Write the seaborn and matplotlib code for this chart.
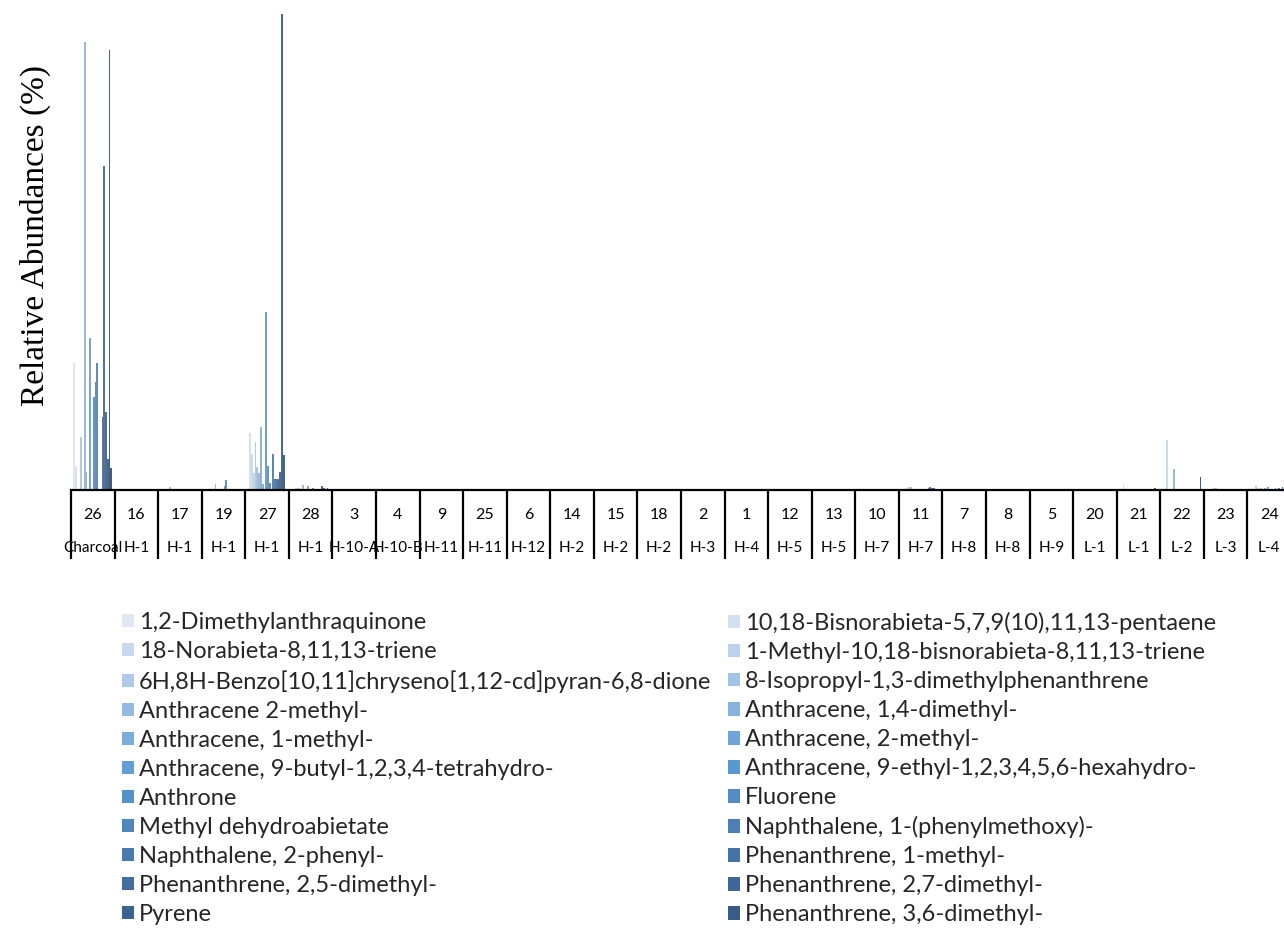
import matplotlib
matplotlib.use("Agg")
import matplotlib.pyplot as plt
import matplotlib.transforms as mtransforms
from matplotlib.patches import Patch
import seaborn as sns
import pandas as pd
import numpy as np

# sample numbers (x categories) and their site labels
samples = ["26", "16", "17", "19", "27", "28", "3", "4", "9", "25", "6", "14", "15", "18",
           "2", "1", "12", "13", "10", "11", "7", "8", "5", "20", "21", "22", "23", "24"]
sites = ["Charcoal", "H-1", "H-1", "H-1", "H-1", "H-1", "H-10-A", "H-10-B", "H-11", "H-11",
         "H-12", "H-2", "H-2", "H-2", "H-3", "H-4", "H-5", "H-5", "H-7", "H-7", "H-8", "H-8",
         "H-9", "L-1", "L-1", "L-2", "L-3", "L-4"]

compounds = [
    "1,2-Dimethylanthraquinone",
    "10,18-Bisnorabieta-5,7,9(10),11,13-pentaene",
    "18-Norabieta-8,11,13-triene",
    "1-Methyl-10,18-bisnorabieta-8,11,13-triene",
    "6H,8H-Benzo[10,11]chryseno[1,12-cd]pyran-6,8-dione",
    "8-Isopropyl-1,3-dimethylphenanthrene",
    "Anthracene 2-methyl-",
    "Anthracene, 1,4-dimethyl-",
    "Anthracene, 1-methyl-",
    "Anthracene, 2-methyl-",
    "Anthracene, 9-butyl-1,2,3,4-tetrahydro-",
    "Anthracene, 9-ethyl-1,2,3,4,5,6-hexahydro-",
    "Anthrone",
    "Fluorene",
    "Methyl dehydroabietate",
    "Naphthalene, 1-(phenylmethoxy)-",
    "Naphthalene, 2-phenyl-",
    "Phenanthrene, 1-methyl-",
    "Phenanthrene, 2,5-dimethyl-",
    "Phenanthrene, 2,7-dimethyl-",
    "Pyrene",
    "Phenanthrene, 3,6-dimethyl-",
]

# relative abundances (%) per sample, one value per compound (order as above)
s26 = [12.7, 2.3, 0, 0, 5.3, 0, 44.8, 1.8, 0, 15.2, 0, 9.3, 10.8, 12.7, 0, 0, 7.3, 32.4, 7.8, 3.1, 44.0, 2.2]
s16 = [0, 0, 0, 0, 0, 0, 0.03, 0, 0, 0, 0, 0, 0, 0, 0.03, 0, 0, 0, 0, 0, 0, 0]
s17 = [0, 0.05, 0, 0, 0, 0.25, 0, 0, 0, 0, 0, 0.03, 0, 0, 0, 0, 0.03, 0, 0, 0, 0, 0]
s19 = [0, 0, 0, 0, 0, 0, 0.6, 0, 0, 0, 0, 0.35, 1.0, 0, 0, 0, 0, 0, 0, 0, 0, 0]
s27 = [0, 5.7, 3.6, 1.7, 4.8, 2.3, 1.7, 6.3, 0.6, 0, 17.8, 2.4, 0.7, 0, 3.6, 1.1, 1.1, 1.1, 1.8, 47.6, 3.5, 0]
s28 = [0, 0, 0.2, 0.15, 0.15, 0, 0.45, 0, 0, 0.35, 0, 0, 0.18, 0, 0, 0, 0, 0.35, 0.15, 0, 0.2, 0]
s3 = [0, 0, 0, 0.05, 0.05, 0.05, 0.05, 0.05, 0.05, 0, 0, 0, 0, 0, 0, 0, 0, 0, 0, 0, 0, 0]
s4 = [0, 0, 0, 0, 0, 0, 0, 0, 0, 0, 0, 0, 0, 0, 0, 0, 0, 0, 0, 0, 0, 0]
s9 = [0, 0, 0, 0, 0, 0, 0, 0, 0, 0, 0, 0, 0, 0, 0, 0, 0, 0, 0, 0, 0, 0]
s25 = [0, 0, 0, 0, 0, 0, 0, 0, 0, 0, 0, 0, 0, 0, 0, 0, 0, 0, 0, 0, 0, 0]
s6 = [0, 0, 0, 0, 0, 0, 0, 0, 0, 0, 0, 0, 0, 0, 0, 0, 0, 0, 0, 0, 0, 0]
s14 = [0, 0, 0, 0, 0, 0, 0, 0, 0, 0, 0, 0, 0, 0, 0, 0, 0, 0, 0, 0, 0, 0]
s15 = [0, 0, 0, 0, 0, 0, 0, 0, 0, 0, 0, 0, 0, 0, 0, 0, 0, 0, 0, 0, 0, 0]
s18 = [0, 0, 0, 0, 0, 0, 0, 0, 0, 0, 0, 0, 0, 0, 0, 0, 0, 0, 0, 0, 0, 0]
s2 = [0, 0, 0, 0, 0, 0, 0, 0, 0, 0, 0, 0, 0, 0, 0, 0, 0, 0, 0, 0, 0, 0]
s1 = [0, 0, 0, 0, 0, 0, 0, 0, 0, 0, 0, 0, 0, 0, 0, 0, 0, 0, 0, 0, 0, 0]
s12 = [0, 0, 0, 0, 0, 0, 0, 0, 0, 0, 0, 0, 0, 0, 0, 0, 0, 0, 0, 0, 0, 0]
s13 = [0, 0, 0, 0, 0, 0, 0, 0, 0, 0, 0, 0, 0, 0, 0, 0, 0, 0, 0, 0, 0, 0]
s10 = [0, 0, 0, 0, 0, 0, 0, 0, 0, 0, 0, 0, 0, 0, 0, 0, 0, 0, 0, 0, 0, 0]
s11 = [0, 0, 0.17, 0, 0.27, 0.33, 0, 0.1, 0.1, 0, 0, 0, 0, 0.07, 0, 0.2, 0.27, 0.2, 0.15, 0.1, 0, 0.1]
s7 = [0, 0, 0, 0, 0, 0, 0, 0, 0, 0, 0, 0, 0, 0, 0, 0, 0, 0, 0, 0, 0, 0]
s8 = [0, 0, 0, 0, 0, 0, 0, 0, 0, 0, 0, 0, 0, 0, 0, 0, 0, 0, 0, 0, 0, 0]
s5 = [0, 0, 0, 0, 0, 0.05, 0, 0, 0, 0, 0, 0, 0, 0, 0, 0.05, 0, 0, 0, 0, 0, 0]
s20 = [0, 0, 0, 0, 0, 0, 0, 0, 0, 0, 0, 0, 0, 0, 0, 0, 0, 0, 0, 0, 0, 0]
s21 = [0, 0, 0.5, 0, 0, 0, 0, 0, 0, 0, 0, 0, 0, 0, 0, 0, 0, 0, 0, 0, 0.2, 0]
s22 = [0, 0, 5.0, 0, 0, 0, 2.1, 0, 0, 0, 0, 0, 0, 0, 0, 0, 0, 0, 0, 0, 0, 1.33]
s23 = [0, 0, 0, 0, 0.2, 0.17, 0, 0, 0.05, 0, 0.05, 0, 0, 0, 0.05, 0, 0, 0.05, 0, 0, 0, 0]
s24 = [0, 0, 0, 0.4, 0.2, 0, 0.2, 0, 0.2, 0, 0.33, 0, 0.1, 0, 0.2, 0, 0.15, 0, 0.25, 0, 0.1, 0]

sample_values = [s26, s16, s17, s19, s27, s28, s3, s4, s9, s25, s6, s14, s15, s18,
                 s2, s1, s12, s13, s10, s11, s7, s8, s5, s20, s21, s22, s23, s24]

rows = []
for name, vals in zip(samples, sample_values):
    for comp, v in zip(compounds, vals):
        rows.append({"sample": name, "compound": comp, "abundance": v})
df = pd.DataFrame(rows)

palette = sns.blend_palette(["#dfe7f4", "#5b9bd5", "#385c8a"], len(compounds))

sns.set_style("white")
plt.rcParams["font.family"] = ["Lato", "DejaVu Sans"]

fig = plt.figure(figsize=(12.84, 9.3), dpi=100)
W, H = 1284, 930
ax = fig.add_axes([71 / W, 440 / H, 1220 / W, 490 / H])

sns.barplot(data=df, x="sample", y="abundance", hue="compound", order=samples,
            hue_order=compounds, palette=palette, width=0.89, errorbar=None,
            linewidth=0, legend=False, ax=ax)

ax.set_xlim(-0.5, len(samples) - 0.5)
ax.set_ylim(0, 49.0)
ax.set_yticks([])
ax.set_xlabel("")
ax.set_ylabel("")
for side in ["left", "right", "top"]:
    ax.spines[side].set_visible(False)
ax.spines["bottom"].set_color("black")
ax.spines["bottom"].set_linewidth(1.6)

# category separators drawn as long minor ticks
ax.set_xticks(range(len(samples)))
ax.set_xticklabels(samples)
ax.set_xticks(np.arange(-0.5, len(samples), 1), minor=True)
ax.tick_params(axis="x", which="minor", bottom=True, length=50, width=1.6,
               color="black", direction="out")
ax.tick_params(axis="x", which="major", bottom=True, length=0, pad=13, labelsize=11.5,
               labelcolor="black")

trans = mtransforms.blended_transform_factory(ax.transData, ax.transAxes)
for i, s in enumerate(sites):
    ax.text(i, -58 / 490, s, transform=trans, ha="center", va="center", fontsize=11, color="black")

fig.text(35 / W, 1 - 235 / H, "Relative Abundances (%)", rotation=90, ha="center", va="center",
         fontsize=24, family="Liberation Serif", color="black")

# legend in two columns (left: even entries, right: odd entries)
handles = [Patch(facecolor=c, edgecolor="none") for c in palette]
leg_kw = dict(frameon=False, loc="upper left", fontsize=17, handlelength=0.5,
              handleheight=0.5, handletextpad=0.22, labelspacing=0.34, borderpad=0,
              borderaxespad=0)
left_idx = list(range(0, len(compounds), 2))
right_idx = list(range(1, len(compounds), 2))
fig.legend([handles[i] for i in left_idx], [compounds[i] for i in left_idx],
           bbox_to_anchor=(122 / W, 1 - 612 / H), **leg_kw)
fig.legend([handles[i] for i in right_idx], [compounds[i] for i in right_idx],
           bbox_to_anchor=(728 / W, 1 - 612 / H), **leg_kw)

fig.savefig("out.png", dpi=100)
